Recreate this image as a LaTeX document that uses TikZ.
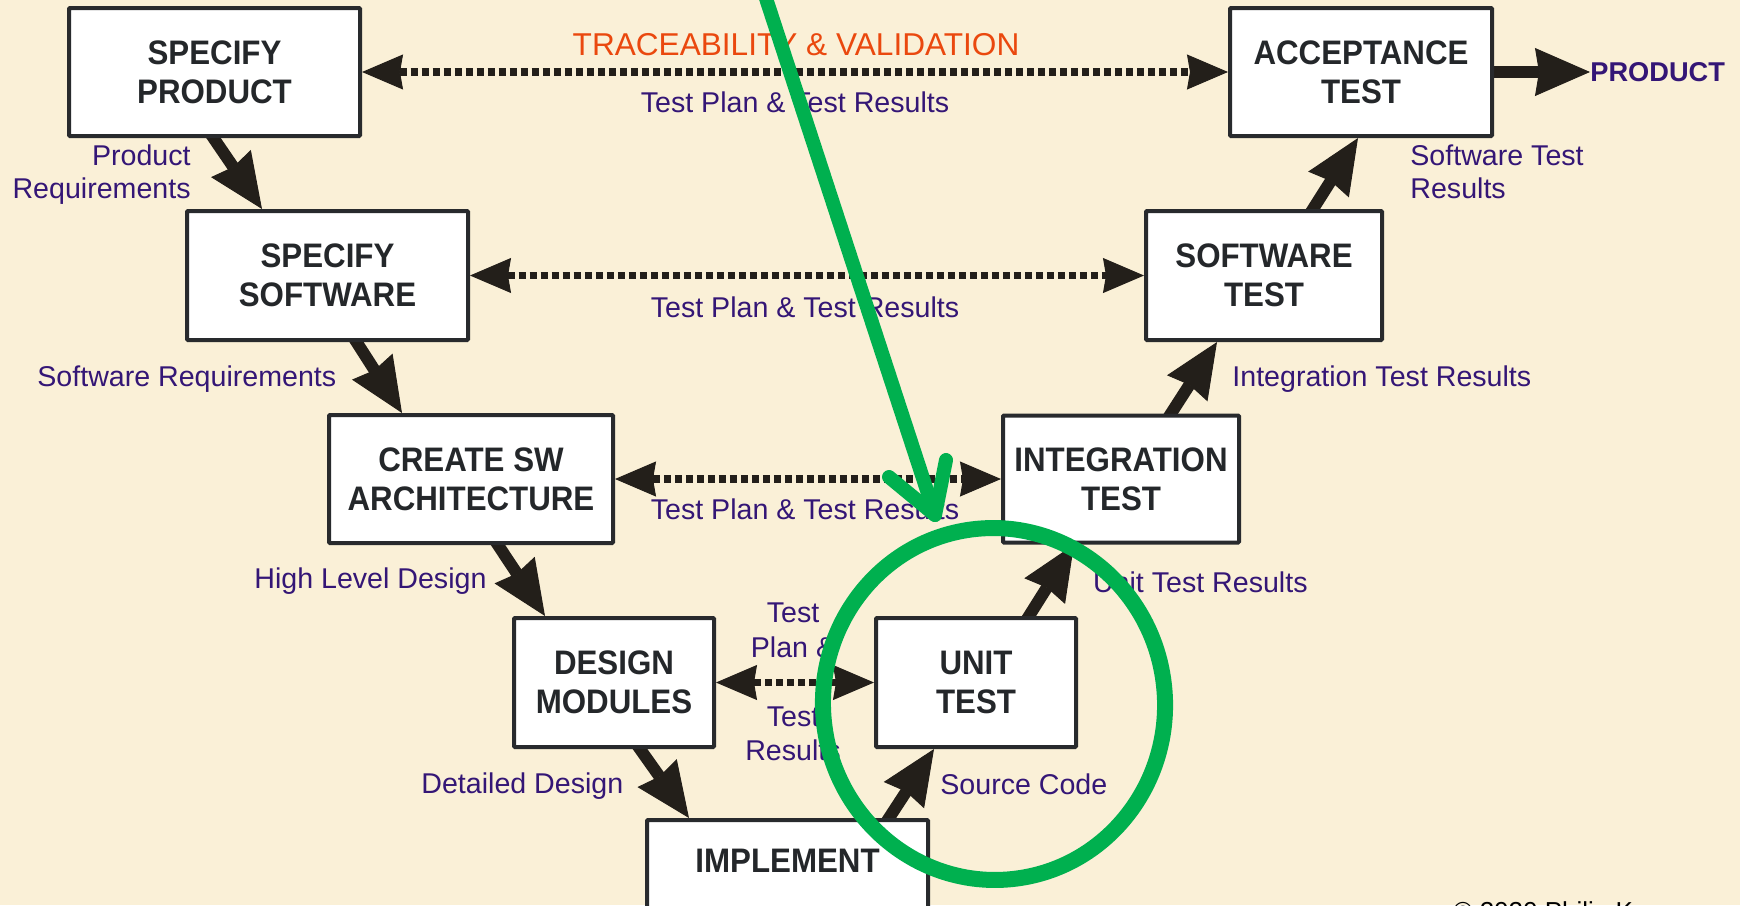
\documentclass[tikz,border=0pt]{standalone}
\usepackage{fontspec}
\setmainfont{Liberation Sans}
\newfontfamily\boxfont[FakeStretch=0.92]{Liberation Sans}
\usetikzlibrary{arrows.meta,calc}
\pgfdeclarelayer{back}
\pgfsetlayers{back,main}
\newdimen\upx \upx=0.5pt
\definecolor{bg}{RGB}{250,240,215}
\definecolor{lblc}{RGB}{52,22,118}
\definecolor{orng}{RGB}{234,72,14}
\definecolor{boxline}{RGB}{40,42,45}
\definecolor{boxtext}{RGB}{36,39,42}
\definecolor{arr}{RGB}{35,31,26}
\definecolor{grn}{RGB}{0,176,79}
\begin{document}
\begin{tikzpicture}[x=0.5pt,y=-0.5pt,
 stagebox/.style={draw=boxline, line width=4\upx, fill=white, rounded corners=1\upx, align=center, text=boxtext, font=\boxfont\bfseries\fontsize{17pt}{19.5pt}\selectfont, inner sep=0pt},
 lbl/.style={text=lblc, font=\fontsize{14.3pt}{16pt}\selectfont, inner sep=0pt},
 flow/.style={draw=arr, line width=6pt, -{Stealth[length=27.5pt,width=24pt,inset=2pt,line width=0.5pt]}},
 trace/.style={draw=arr, line width=3.75pt, dash pattern=on 3.5pt off 2pt, {Stealth[length=20.5pt,width=17.5pt,inset=1.5pt,line width=0.5pt]}-{Stealth[length=20.5pt,width=17.5pt,inset=1.5pt,line width=0.5pt]}},
 ring/.style={draw=grn, line width=8pt},
 pointer/.style={draw=grn, line width=7pt, line cap=round, line join=round},
]
\useasboundingbox (0,0) rectangle (1740,905);
\begin{scope}
\clip (0,0) rectangle (1740,905);
% stage boxes
\node[stagebox, minimum width=291\upx, minimum height=128\upx] (SP) at (214.5,72) {SPECIFY\\PRODUCT};
\node[stagebox, minimum width=281\upx, minimum height=129\upx] (SS) at (327.5,275.5) {SPECIFY\\SOFTWARE};
\node[stagebox, minimum width=284\upx, minimum height=128\upx] (CA) at (471,479) {CREATE SW\\ARCHITECTURE};
\node[stagebox, minimum width=200\upx, minimum height=129\upx] (DM) at (614,682.5) {DESIGN\\MODULES};
\node[stagebox, minimum width=281\upx, minimum height=128\upx, text depth=46\upx] (IM) at (787.5,884) {IMPLEMENT};
\node[stagebox, minimum width=200\upx, minimum height=129\upx] (UT) at (976,682.5) {UNIT\\TEST};
\node[stagebox, minimum width=236\upx, minimum height=127\upx] (IT) at (1121,479) {INTEGRATION\\TEST};
\node[stagebox, minimum width=236\upx, minimum height=129\upx] (ST) at (1264,275.5) {SOFTWARE\\TEST};
\node[stagebox, minimum width=262\upx, minimum height=128\upx] (AT) at (1361,72) {ACCEPTANCE\\TEST};
\node[lbl, font=\bfseries\fontsize{13.6pt}{16pt}\selectfont, anchor=west] (PR) at (1590,72) {PRODUCT};

% flow arrow end points
\coordinate (a1s) at ($(SP.south)+(-1,0)$);   \coordinate (a1e) at ($(SS.north)+(-65.5,0)$);
\coordinate (a2s) at ($(SS.south)+(29,0)$);   \coordinate (a2e) at ($(CA.north)+(-69,0)$);
\coordinate (a3s) at ($(CA.south)+(27,0)$);   \coordinate (a3e) at ($(DM.north)+(-69,0)$);
\coordinate (a4s) at ($(DM.south)+(26,0)$);   \coordinate (a4e) at ($(IM.north)+(-98.5,0)$);
\coordinate (a5s) at ($(IM.north)+(101.5,0)$); \coordinate (a5e) at ($(UT.south)+(-42,0)$);
\coordinate (a6s) at ($(UT.north)+(53,0)$);   \coordinate (a6e) at ($(IT.south)+(-47,0)$);
\coordinate (a7s) at ($(IT.north)+(50,0)$);   \coordinate (a7e) at ($(ST.south)+(-47,0)$);
\coordinate (a8s) at ($(ST.north)+(49,0)$);   \coordinate (a8e) at ($(AT.south)+(-3,0)$);

\begin{pgfonlayer}{back}
\fill[bg] (0,0) rectangle (1740,905);
\foreach \i in {1,...,8} {
  \draw[flow] ($(a\i s)!-6pt!(a\i e)$) -- (a\i e);
}
\draw[flow] (AT.east) -- (PR.west);
\draw[trace] (SP.east) -- (AT.west);
\draw[trace] (SS.east) -- (ST.west);
\draw[trace] (CA.east) -- (IT.west);
\draw[trace] (DM.east) -- (UT.west);
\end{pgfonlayer}

% labels
\node[lbl, anchor=base east] (l1a) at (191,165) {Product};
\node[lbl, anchor=base east] (l1b) at (191,198) {Requirements};
\node[lbl, anchor=base west] (l2) at (37,386) {Software Requirements};
\node[lbl, anchor=base west] (l3) at (254,588) {High Level Design};
\node[lbl, anchor=base west] (l4) at (421,793) {Detailed Design};
\node[lbl, anchor=base west] (l5) at (940,794) {Source Code};
\node[lbl, anchor=base east] (l6) at (1308,592) {Unit Test Results};
\node[lbl, anchor=base west] (l7) at (1232,386) {Integration Test Results};
\node[lbl, anchor=base west] (l8a) at (1410,165) {Software Test};
\node[lbl, anchor=base west] (l8b) at (1410,198) {Results};

\node[lbl, text=orng, font=\fontsize{15.8pt}{18pt}\selectfont, anchor=base] (trc) at (796,55) {TRACEABILITY \& VALIDATION};
\node[lbl, anchor=base] (r1) at (795,112) {Test Plan \& Test Results};
\node[lbl, anchor=base] (r2) at (805,317) {Test Plan \& Test Results};
\node[lbl, anchor=base] (r3) at (805,519) {Test Plan \& Test Results};
\node[lbl, anchor=base] (r4a) at (793,622) {Test};
\node[lbl, anchor=base] (r4b) at (793,657) {Plan \&};
\node[lbl, anchor=base] (r4c) at (793,726) {Test};
\node[lbl, anchor=base] (r4d) at (793,760) {Results};

\node[anchor=base west, inner sep=0pt, font=\fontsize{13pt}{15pt}\selectfont, text=black] (cr) at (1453,920) {© 2020 Philip Koopman};

% green highlight
\draw[ring, rotate around={6:(994,704)}] (994,704) ellipse [x radius=171, y radius=176];
\coordinate (gtop) at (760,-20);
\coordinate (gtip) at (935,515);
\coordinate (gl) at (889,477);
\coordinate (gr) at (946,460);
\draw[pointer] (gtop) -- (gtip);
\draw[pointer] (gl) -- (gtip) -- (gr);
\end{scope}
\end{tikzpicture}
\end{document}
